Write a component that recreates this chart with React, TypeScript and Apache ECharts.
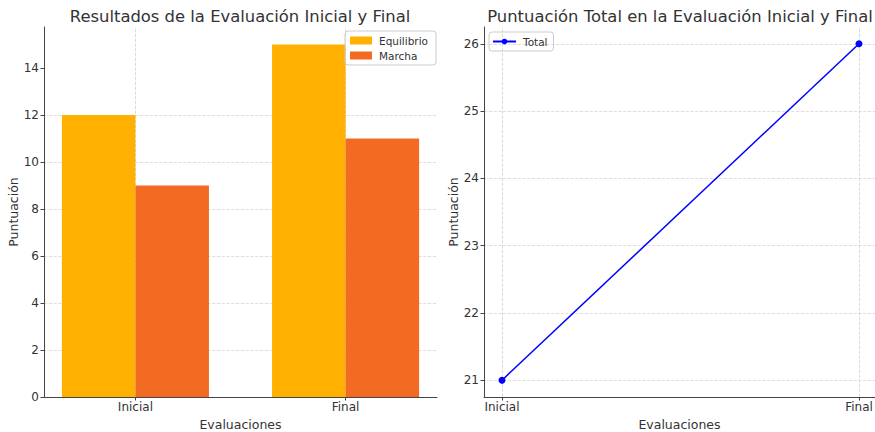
import React, { useEffect, useRef } from "react";
import * as echarts from "echarts";

const categories = ["Inicial", "Final"];
const equilibrio = [12, 15];
const marcha = [9, 11];
const totals = [21, 26];
const leftYTicks = [0, 2, 4, 6, 8, 10, 12, 14];
const rightYTicks = [21, 22, 23, 24, 25, 26];

const FONT = "DejaVu Sans";
const TXT = "#333333";
const BAR_W = 0.35;

export default function App() {
  const ref = useRef<HTMLDivElement>(null);
  useEffect(() => {
    if (!ref.current) return;
    document.documentElement.style.overflow = "hidden";
    document.body.style.overflow = "hidden";
    document.body.style.margin = "0";
    const chart = echarts.init(ref.current, null, { renderer: "svg" });
    const idx = categories.map((_, i) => i);
    const gridLine = {
      silent: true,
      symbol: "none",
      label: { show: false },
      lineStyle: { color: "#d0d0d0", type: "dashed", width: 0.8 },
      data: idx.map((i) => ({ xAxis: i })),
      z: 0,
    };
    const axisCommon = {
      axisLine: { show: true, onZero: false, lineStyle: { color: "#444", width: 1 } },
      axisTick: { show: true, length: 3.5, lineStyle: { color: "#444" } },
      axisLabel: { color: TXT, fontFamily: FONT, fontSize: 12 },
      nameTextStyle: { color: TXT, fontFamily: FONT, fontSize: 12.5 },
    };
    const catLabel = (v: number) => {
      const r = Math.round(v);
      return Math.abs(v - r) < 1e-6 && categories[r] !== undefined ? categories[r] : "";
    };
    chart.setOption({
      animation: false,
      textStyle: { fontFamily: FONT },
      title: [
        {
          text: "Resultados de la Evaluación Inicial y Final",
          left: 235,
          textAlign: "center",
          top: 3,
          textStyle: { fontFamily: FONT, fontSize: 16.4, fontWeight: "normal", color: TXT },
        },
        {
          text: "Puntuación Total en la Evaluación Inicial y Final",
          left: 675,
          textAlign: "center",
          top: 3,
          textStyle: { fontFamily: FONT, fontSize: 16.4, fontWeight: "normal", color: TXT },
        },
      ],
      legend: [
        {
          data: ["Equilibrio", "Marcha"],
          orient: "vertical",
          left: 345,
          top: 31,
          padding: [4, 8, 4, 5],
          itemGap: 4,
          itemWidth: 22,
          itemHeight: 8,
          icon: "rect",
          borderColor: "#cccccc",
          borderWidth: 1,
          borderRadius: 3,
          textStyle: { fontFamily: FONT, fontSize: 10.5, color: TXT, padding: [0, 0, 0, 2] },
        },
        {
          data: ["Total"],
          left: 489,
          top: 32,
          padding: [4, 6, 4, 3],
          itemWidth: 23,
          itemHeight: 7,
          borderColor: "#cccccc",
          borderWidth: 1,
          borderRadius: 3,
          textStyle: { fontFamily: FONT, fontSize: 10.5, color: TXT, padding: [0, 0, 0, 2] },
        },
      ],
      grid: [
        { left: 44, top: 27, width: 393, height: 370, containLabel: false, outerBoundsMode: "none" },
        { left: 484, top: 27, width: 391, height: 370, containLabel: false, outerBoundsMode: "none" },
      ],
      xAxis: [
        {
          ...axisCommon,
          type: "value",
          gridIndex: 0,
          min: -0.435,
          max: 1.435,
          name: "Evaluaciones",
          nameLocation: "middle",
          nameGap: 17,
          axisTick: { ...axisCommon.axisTick, customValues: idx },
          axisLabel: { ...axisCommon.axisLabel, customValues: idx, formatter: catLabel, margin: 4 },
          splitLine: { show: false },
        },
        {
          ...axisCommon,
          type: "value",
          gridIndex: 1,
          min: -0.0504,
          max: 1.0448,
          name: "Evaluaciones",
          nameLocation: "middle",
          nameGap: 17,
          axisTick: { ...axisCommon.axisTick, customValues: idx },
          axisLabel: { ...axisCommon.axisLabel, customValues: idx, formatter: catLabel, margin: 4 },
          splitLine: { show: false },
        },
      ],
      yAxis: [
        {
          ...axisCommon,
          type: "value",
          gridIndex: 0,
          min: 0,
          max: 15.75,
          interval: 2,
          name: "Puntuación",
          nameLocation: "middle",
          nameGap: 19,
          axisTick: { ...axisCommon.axisTick, customValues: leftYTicks },
          axisLabel: { ...axisCommon.axisLabel, customValues: leftYTicks, margin: 5 },
          splitLine: {
            show: true,
            showMinLine: false,
            showMaxLine: false,
            lineStyle: { color: "#d6d6d6", type: "dashed", width: 0.8 },
          },
        },
        {
          ...axisCommon,
          type: "value",
          gridIndex: 1,
          min: 20.75,
          max: 26.25,
          name: "Puntuación",
          nameLocation: "middle",
          nameGap: 22,
          axisTick: { ...axisCommon.axisTick, customValues: rightYTicks },
          axisLabel: { ...axisCommon.axisLabel, customValues: rightYTicks, margin: 5 },
          splitLine: {
            show: true,
            customValues: rightYTicks,
            lineStyle: { color: "#d6d6d6", type: "dashed", width: 0.8 },
          },
        },
      ],
      series: [
        {
          name: "Equilibrio",
          type: "bar",
          xAxisIndex: 0,
          yAxisIndex: 0,
          barWidth: 73.5,
          barGap: "-100%",
          itemStyle: { color: "#FFB000" },
          data: equilibrio.map((v, i) => [i - BAR_W / 2, v]),
          markLine: gridLine,
          z: 2,
        },
        {
          name: "Marcha",
          type: "bar",
          xAxisIndex: 0,
          yAxisIndex: 0,
          barWidth: 73.5,
          barGap: "-100%",
          itemStyle: { color: "#F36B22" },
          data: marcha.map((v, i) => [i + BAR_W / 2, v]),
          z: 2,
        },
        {
          name: "Total",
          type: "line",
          xAxisIndex: 1,
          yAxisIndex: 1,
          symbol: "circle",
          symbolSize: 7,
          lineStyle: { color: "#0000FF", width: 1.5 },
          itemStyle: { color: "#0000FF" },
          data: totals.map((v, i) => [i, v]),
          markLine: gridLine,
          z: 3,
        },
      ],
    });
    return () => chart.dispose();
  }, []);
  return (
    <div
      style={{ position: "absolute", left: 0, top: 0, width: 875, height: 432, overflow: "hidden", background: "#fff" }}
    >
      <div ref={ref} style={{ width: 875, height: 432 }} />
    </div>
  );
}
